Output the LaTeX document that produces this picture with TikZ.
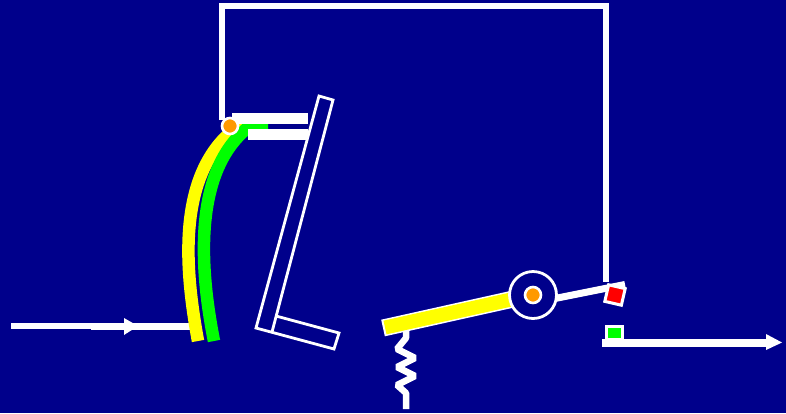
\documentclass[tikz,border=0pt]{standalone}
\definecolor{bgblue}{RGB}{0,0,139}
\definecolor{dotorange}{RGB}{255,153,0}
\definecolor{ylw}{RGB}{255,255,0}
\definecolor{grn}{RGB}{0,255,0}
\definecolor{rd}{RGB}{255,0,0}
\tikzset{
  wire/.style={draw=white,line width=6.5bp,line join=miter},
  thin wire/.style={draw=white,line width=2.8bp,line join=miter},
  head/.style={fill=white,draw=none},
  pivot/.style={circle,draw=white,fill=dotorange,line width=2.6bp,inner sep=0pt,minimum size=16bp},
  contact/.style={draw=white,line width=3bp,minimum size=17bp,inner sep=0pt},
}
\begin{document}
\begin{tikzpicture}[x=1bp,y=-1bp]
\path[fill=bgblue,use as bounding box] (0,0) rectangle (786,413);
% feedback wire
\draw[wire] (222,120) -- (222,6) -- (606,6) -- (606,282);
% incoming arrow
\draw[draw=white,line width=6bp] (11,326) -- (193,326);
\draw[draw=white,line width=7bp] (91,326) -- (193,326);
\fill[head] (124,318) -- (138,326) -- (124,335) -- cycle;
% bimetal strips
\draw[draw=ylw,line width=12.5bp] (198,341) .. controls (185,270) and (175,170) .. (240,125) -- (250,125);
\draw[draw=grn,line width=12.5bp] (214,341) .. controls (200,270) and (192,170) .. (250,126) -- (268,126);
% contact bars
\fill[white] (232,113) rectangle (308,124);
\fill[white] (248,129) rectangle (308,140);
\node[pivot] (hinge) at (230,126) {};
% L-shaped slider
\draw[thin wire] (272,332) -- (333,100) -- (319,96) -- (256,328) -- (334,349) -- (339,333) -- (276,316);
% spring
\draw[wire,line join=bevel] (406,323) -- (406,338) -- (397,349) -- (415,358) -- (397,367) -- (415,376) -- (397,385) -- (406,393) -- (406,409);
% lever
\draw[draw=white,line width=17bp] (383,328) -- (520,297.5);
\draw[draw=ylw,line width=14bp] (385,327.5) -- (520,297.5);
\draw[draw=white,line width=7bp] (555,298.5) -- (625,284.5);
\node[circle,draw=white,fill=bgblue,line width=2.8bp,minimum size=47bp,inner sep=0pt] (pivotring) at (533,295) {};
\node[pivot] (pivotdot) at (533,295) {};
% contacts
\node[contact,fill=rd,rotate=-13] (movecontact) at (615,295) {};
\draw[draw=white,line width=8bp] (602,342.5) -- (768,342.5);
\fill[head] (766,334) -- (782,342.5) -- (766,350) -- cycle;
\node[contact,fill=grn,minimum width=16bp,minimum height=13bp] (fixcontact) at (614.5,333) {};
\end{tikzpicture}
\end{document}
